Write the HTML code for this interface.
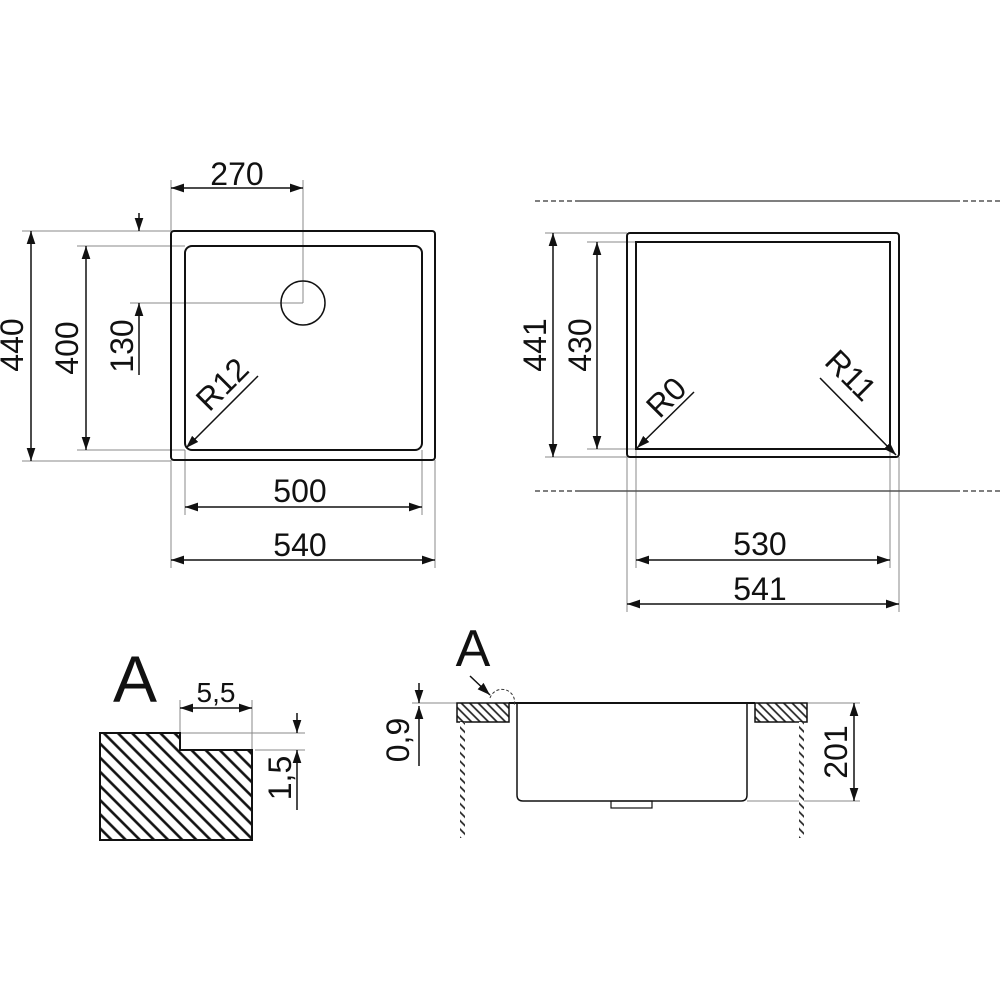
<!DOCTYPE html>
<html><head><meta charset="utf-8"><style>html,body{margin:0;padding:0;background:#fff}svg{display:block}text{font-family:"Liberation Sans",sans-serif;fill:#111}</style></head>
<body>
<svg width="1000" height="1000" viewBox="0 0 1000 1000" xmlns="http://www.w3.org/2000/svg">
<defs>
<marker id="a" viewBox="0 0 12 8" refX="12" refY="4" markerWidth="13" markerHeight="9" markerUnits="userSpaceOnUse" orient="auto-start-reverse"><path d="M0,0 L12,4 L0,8 z" fill="#111"/></marker>
<pattern id="h" width="10" height="10" patternUnits="userSpaceOnUse" patternTransform="rotate(-45)"><rect width="10" height="10" fill="#fff"/><line x1="5" y1="0" x2="5" y2="10" stroke="#111" stroke-width="2.6"/></pattern>
<pattern id="h2" width="6" height="6" patternUnits="userSpaceOnUse" patternTransform="rotate(-45)"><rect width="6" height="6" fill="#fff"/><line x1="3" y1="0" x2="3" y2="6" stroke="#222" stroke-width="1.7"/></pattern>
</defs>
<g fill="none" stroke="#888" stroke-width="1">
<line x1="171" y1="180" x2="171" y2="231"/><line x1="303" y1="180" x2="303" y2="303"/>
<line x1="22" y1="231" x2="171" y2="231"/><line x1="22" y1="461" x2="171" y2="461"/>
<line x1="77" y1="246" x2="185" y2="246"/><line x1="77" y1="450" x2="185" y2="450"/>
<line x1="130" y1="303" x2="303" y2="303"/>
<line x1="185" y1="450" x2="185" y2="515"/><line x1="422" y1="450" x2="422" y2="515"/>
<line x1="171" y1="460" x2="171" y2="568"/><line x1="435" y1="460" x2="435" y2="568"/>
<line x1="545" y1="233" x2="627" y2="233"/><line x1="545" y1="457" x2="627" y2="457"/>
<line x1="587" y1="242" x2="636" y2="242"/><line x1="587" y1="449" x2="636" y2="449"/>
<line x1="636" y1="449" x2="636" y2="568"/><line x1="890" y1="449" x2="890" y2="568"/>
<line x1="627" y1="457" x2="627" y2="612"/><line x1="899" y1="457" x2="899" y2="612"/>
<line x1="180" y1="700" x2="180" y2="733"/><line x1="252" y1="700" x2="252" y2="750"/>
<line x1="180" y1="733" x2="305" y2="733"/><line x1="255" y1="750" x2="305" y2="750"/>
<line x1="412" y1="703" x2="860" y2="703"/><line x1="747" y1="801" x2="860" y2="801"/>
</g>
<g fill="none" stroke="#111" stroke-width="2">
<rect x="171" y="231" width="264" height="229" rx="3"/>
<rect x="185" y="246" width="237" height="204" rx="7"/>
<circle cx="303" cy="303" r="22" stroke-width="1.5"/>
<rect x="627" y="233" width="272" height="224" rx="3"/>
<rect x="636" y="242" width="254" height="207"/>
</g>
<g stroke="#555" stroke-width="1.5">
<line x1="535" y1="201" x2="580" y2="201" stroke-dasharray="5,3"/><line x1="580" y1="201" x2="955" y2="201"/><line x1="955" y1="201" x2="1000" y2="201" stroke-dasharray="5,3"/>
<line x1="535" y1="491" x2="580" y2="491" stroke-dasharray="5,3"/><line x1="580" y1="491" x2="955" y2="491"/><line x1="955" y1="491" x2="1000" y2="491" stroke-dasharray="5,3"/>
</g>
<g stroke="#111" stroke-width="1.5" fill="none">
<line x1="171" y1="188" x2="303" y2="188" marker-start="url(#a)" marker-end="url(#a)"/>
<line x1="31" y1="231" x2="31" y2="461" marker-start="url(#a)" marker-end="url(#a)"/>
<line x1="86" y1="246" x2="86" y2="450" marker-start="url(#a)" marker-end="url(#a)"/>
<line x1="139" y1="213" x2="139" y2="231" marker-end="url(#a)"/>
<line x1="139" y1="375" x2="139" y2="303" marker-end="url(#a)"/>
<line x1="258" y1="376" x2="186" y2="448" marker-end="url(#a)"/>
<line x1="185" y1="507" x2="422" y2="507" marker-start="url(#a)" marker-end="url(#a)"/>
<line x1="171" y1="560" x2="435" y2="560" marker-start="url(#a)" marker-end="url(#a)"/>
<line x1="553" y1="233" x2="553" y2="457" marker-start="url(#a)" marker-end="url(#a)"/>
<line x1="597" y1="242" x2="597" y2="449" marker-start="url(#a)" marker-end="url(#a)"/>
<line x1="694" y1="392" x2="637" y2="448" marker-end="url(#a)"/>
<line x1="820" y1="378" x2="896" y2="455" marker-end="url(#a)"/>
<line x1="636" y1="560" x2="890" y2="560" marker-start="url(#a)" marker-end="url(#a)"/>
<line x1="627" y1="604" x2="899" y2="604" marker-start="url(#a)" marker-end="url(#a)"/>
<line x1="180" y1="708" x2="252" y2="708" marker-start="url(#a)" marker-end="url(#a)"/>
<line x1="297" y1="713" x2="297" y2="733" marker-end="url(#a)"/>
<line x1="297" y1="810" x2="297" y2="750" marker-end="url(#a)"/>
<line x1="419" y1="683" x2="419" y2="703" marker-end="url(#a)"/>
<line x1="419" y1="766" x2="419" y2="706" marker-end="url(#a)"/>
<line x1="854" y1="703" x2="854" y2="801" marker-start="url(#a)" marker-end="url(#a)"/>
<line x1="470" y1="676" x2="490" y2="695" marker-end="url(#a)"/>
</g>
<polygon points="100,733 180,733 180,750 252,750 252,840 100,840" fill="url(#h)" stroke="#111" stroke-width="2"/>
<rect x="457" y="703" width="52" height="19" fill="url(#h2)" stroke="#111" stroke-width="1.5"/>
<rect x="755" y="703" width="52" height="19" fill="url(#h2)" stroke="#111" stroke-width="1.5"/>
<rect x="460" y="722" width="5" height="116" fill="url(#h2)"/>
<rect x="799" y="722" width="5" height="116" fill="url(#h2)"/>
<path d="M517,703 L517,795 Q517,801 523,801 L741,801 Q747,801 747,795 L747,703" fill="none" stroke="#111" stroke-width="1.5"/>
<line x1="509" y1="703" x2="755" y2="703" stroke="#111" stroke-width="2"/>
<rect x="611" y="801" width="41" height="7" fill="none" stroke="#111" stroke-width="1.2"/>
<path d="M490,698 A12,12 0 0 1 514,706" fill="none" stroke="#333" stroke-width="1" stroke-dasharray="3,2"/>
<g font-size="32">
<text x="237" y="185" text-anchor="middle">270</text>
<text x="300" y="502" text-anchor="middle">500</text>
<text x="300" y="556" text-anchor="middle">540</text>
<text x="760" y="555" text-anchor="middle">530</text>
<text x="760" y="600" text-anchor="middle">541</text>
<text transform="translate(23,345) rotate(-90)" text-anchor="middle">440</text>
<text transform="translate(78,348) rotate(-90)" text-anchor="middle">400</text>
<text transform="translate(133,346) rotate(-90)" text-anchor="middle">130</text>
<text transform="translate(230,392) rotate(-45)" text-anchor="middle">R12</text>
<text transform="translate(546,345) rotate(-90)" text-anchor="middle">441</text>
<text transform="translate(591,345) rotate(-90)" text-anchor="middle">430</text>
<text transform="translate(674,405) rotate(-45)" text-anchor="middle">R0</text>
<text transform="translate(843,383) rotate(45)" text-anchor="middle">R11</text>
<text transform="translate(847,752) rotate(-90)" text-anchor="middle">201</text>
<text transform="translate(409,740) rotate(-90)" text-anchor="middle">0,9</text>
<text transform="translate(291,778) rotate(-90)" text-anchor="middle">1,5</text>
<text x="216" y="702" text-anchor="middle" font-size="28">5,5</text>
</g>
<text x="135" y="702" text-anchor="middle" font-size="66">A</text>
<text x="473" y="666" text-anchor="middle" font-size="52">A</text>
</svg>
</body></html>
